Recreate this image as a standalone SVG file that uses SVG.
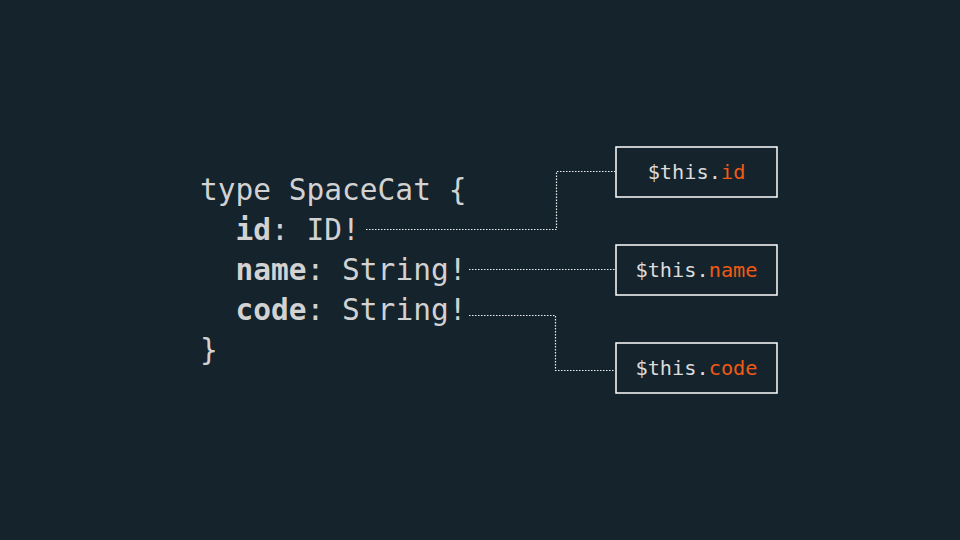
<svg xmlns="http://www.w3.org/2000/svg" width="960" height="540" viewBox="0 0 960 540">
<style>
.code{font-family:"DejaVu Sans Mono","Liberation Mono",monospace;font-size:29.5px;fill:#d2d2d2}
.b{font-weight:bold}
.box{fill:none;stroke:#ffffff;stroke-width:1.5}
.lbl{font-family:"DejaVu Sans Mono","Liberation Mono",monospace;font-size:20.3px;fill:#dcdcdc;text-anchor:middle}
.or{fill:#f05a14}
.conn{fill:none;stroke:#f0f0f0;stroke-width:1.2;stroke-dasharray:1.5 1.5}
</style>
<rect width="960" height="540" fill="#15232d"/>
<g id="code">
<text class="code" x="200" y="200" xml:space="preserve">type SpaceCat {</text>
<text class="code" x="200" y="240" xml:space="preserve">  <tspan class="b">id</tspan>: ID!</text>
<text class="code" x="200" y="280" xml:space="preserve">  <tspan class="b">name</tspan>: String!</text>
<text class="code" x="200" y="320" xml:space="preserve">  <tspan class="b">code</tspan>: String!</text>
<text class="code" x="200" y="360">}</text>
</g>
<g id="connectors">
<polyline class="conn" points="366,229.5 556.5,229.5 556.5,171.5 615,171.5"/>
<polyline class="conn" points="469,269.5 615,269.5"/>
<polyline class="conn" points="469,315.5 555.5,315.5 555.5,370.5 615,370.5"/>
</g>
<g id="box-id">
<rect class="box" x="616" y="147" width="161" height="50"/>
<text class="lbl" x="696.5" y="179">$this.<tspan class="or">id</tspan></text>
</g>
<g id="box-name">
<rect class="box" x="616" y="245" width="161" height="50"/>
<text class="lbl" x="696.5" y="277">$this.<tspan class="or">name</tspan></text>
</g>
<g id="box-code">
<rect class="box" x="616" y="343" width="161" height="50"/>
<text class="lbl" x="696.5" y="375">$this.<tspan class="or">code</tspan></text>
</g>
</svg>
